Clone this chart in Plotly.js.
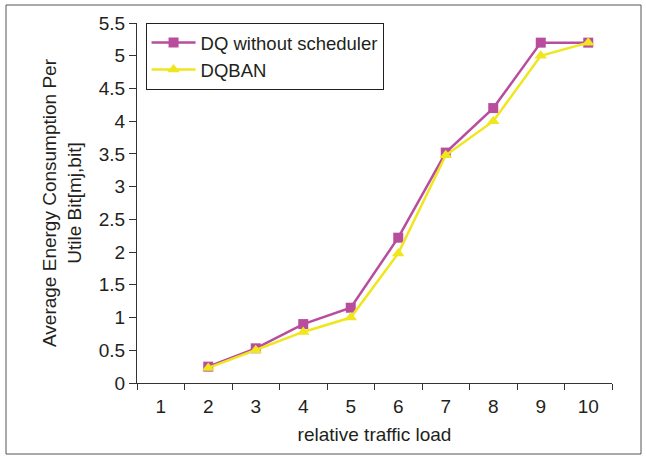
<!DOCTYPE html>
<html>
<head>
<meta charset="utf-8">
<script src="https://cdn.plot.ly/plotly-3.0.1.min.js"></script>
<style>html,body{margin:0;padding:0;background:#fff;}#chart{width:646px;height:456px;}</style>
</head>
<body>
<div id="chart"></div>
<script>
const categories = ["1","2","3","4","5","6","7","8","9","10"];
const dqWithoutScheduler = [null, 0.25, 0.53, 0.90, 1.15, 2.22, 3.52, 4.20, 5.20, 5.20];
const dqban = [null, 0.23, 0.50, 0.78, 1.00, 1.98, 3.48, 4.00, 5.00, 5.20];
const yTicks = [0, 0.5, 1, 1.5, 2, 2.5, 3, 3.5, 4, 4.5, 5, 5.5];
const yTickText = ["0","0.5","1","1.5","2","2.5","3","3.5","4","4.5","5","5.5"];

const traces = [
  {x: categories, y: dqWithoutScheduler, name: "DQ without scheduler", type: "scatter", mode: "lines+markers",
   line: {color: "#b84d9e", width: 2.5}, marker: {symbol: "square", size: 10, color: "#b84d9e"}},
  {x: categories, y: dqban, name: "DQBAN", type: "scatter", mode: "lines+markers",
   line: {color: "#f0e61e", width: 2.5}, marker: {symbol: "triangle-up", size: 11, color: "#f0e61e"}}
];

const layout = {
  width: 646, height: 456,
  margin: {l: 137, r: 34, t: 23, b: 73},
  paper_bgcolor: "#fff", plot_bgcolor: "#fff",
  font: {family: "Liberation Sans, Arial, sans-serif", size: 19, color: "#231f20"},
  showlegend: true,
  legend: {x: 0.018, y: 1.0, xanchor: "left", yanchor: "top", bgcolor: "#fff", itemwidth: 44,
           bordercolor: "#231f20", borderwidth: 1, font: {size: 18.5}, tracegroupgap: 2},
  xaxis: {type: "category", range: [-0.5, 9.5], tickson: "boundaries", ticks: "outside", ticklen: 6,
          tickcolor: "#333", showline: true, linecolor: "#333", linewidth: 1, showgrid: false, zeroline: false,
          ticklabelstandoff: 6, tickfont: {size: 19},
          title: {text: "relative traffic load", font: {size: 19}, standoff: 11}},
  yaxis: {range: [0, 5.5], tickvals: yTicks, ticktext: yTickText, ticks: "outside", ticklen: 7,
          tickcolor: "#333", showline: true, linecolor: "#333", linewidth: 1, showgrid: false, zeroline: false,
          tickfont: {size: 19}, ticklabelstandoff: 0,
          title: {text: "Average Energy Consumption Per<br>Utile Bit[mj,bit]", font: {size: 19}, standoff: 12}},
  shapes: [{type: "rect", xref: "paper", yref: "paper",
            x0: (6 - 137) / 475, x1: (641 - 137) / 475, y0: (383 - 454) / 360, y1: (383 - 5) / 360,
            line: {color: "#555", width: 1}, fillcolor: "rgba(0,0,0,0)"}]
};

Plotly.newPlot("chart", traces, layout, {displayModeBar: false, staticPlot: true});
</script>
</body>
</html>
